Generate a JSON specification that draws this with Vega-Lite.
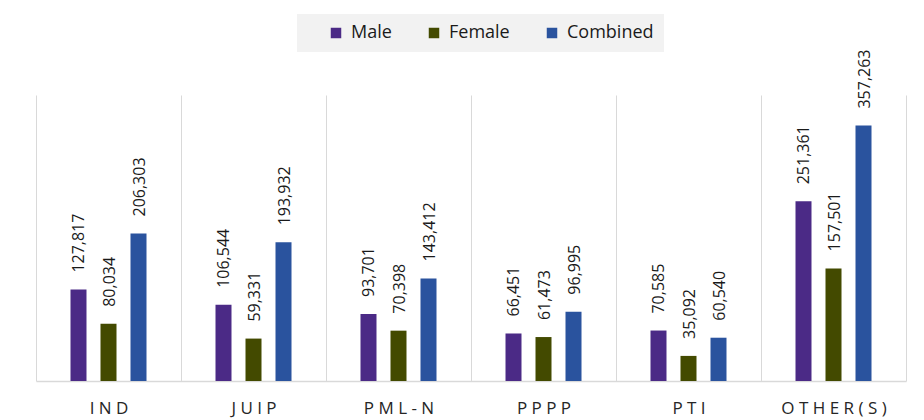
{
  "$schema": "https://vega.github.io/schema/vega-lite/v6.json",
  "autosize": {"type": "none"},
  "padding": {"left": 36, "top": 95, "right": 18, "bottom": 39},
  "width": 870,
  "height": 286,
  "config": {
    "view": {"stroke": null},
    "font": "Open Sans"
  },
  "data": {
    "values": [
      {"party": "IND", "gender": "Male", "value": 127817},
      {"party": "IND", "gender": "Female", "value": 80034},
      {"party": "IND", "gender": "Combined", "value": 206303},
      {"party": "JUIP", "gender": "Male", "value": 106544},
      {"party": "JUIP", "gender": "Female", "value": 59331},
      {"party": "JUIP", "gender": "Combined", "value": 193932},
      {"party": "PML-N", "gender": "Male", "value": 93701},
      {"party": "PML-N", "gender": "Female", "value": 70398},
      {"party": "PML-N", "gender": "Combined", "value": 143412},
      {"party": "PPPP", "gender": "Male", "value": 66451},
      {"party": "PPPP", "gender": "Female", "value": 61473},
      {"party": "PPPP", "gender": "Combined", "value": 96995},
      {"party": "PTI", "gender": "Male", "value": 70585},
      {"party": "PTI", "gender": "Female", "value": 35092},
      {"party": "PTI", "gender": "Combined", "value": 60540},
      {"party": "OTHER(S)", "gender": "Male", "value": 251361},
      {"party": "OTHER(S)", "gender": "Female", "value": 157501},
      {"party": "OTHER(S)", "gender": "Combined", "value": 357263}
    ]
  },
  "encoding": {
    "x": {
      "field": "party",
      "type": "nominal",
      "sort": ["IND", "JUIP", "PML-N", "PPPP", "PTI", "OTHER(S)"],
      "scale": {"paddingInner": 0, "paddingOuter": 0},
      "axis": {
        "title": null,
        "labelAngle": 0,
        "ticks": false,
        "tickBand": "extent",
        "grid": true,
        "gridColor": "#d9d9d9",
        "gridWidth": 1,
        "domainColor": "#d9d9d9",
        "domainWidth": 1.5,
        "labelFontSize": 17,
        "labelColor": "#262626",
        "labelPadding": 19,
        "labelBaseline": "top",
        "labelExpr": "join(split(datum.label, ''), ' ')"
      }
    },
    "xOffset": {
      "field": "gender",
      "type": "nominal",
      "sort": ["Male", "Female", "Combined"],
      "scale": {"paddingInner": 0.1667, "paddingOuter": 1}
    },
    "y": {
      "field": "value",
      "type": "quantitative",
      "scale": {"domain": [0, 400000], "nice": false},
      "axis": null
    }
  },
  "layer": [
    {
      "mark": {"type": "bar", "width": 16},
      "encoding": {
        "color": {
          "field": "gender",
          "type": "nominal",
          "sort": ["Male", "Female", "Combined"],
          "scale": {"domain": ["Male", "Female", "Combined"], "range": ["#4B2A86", "#434A00", "#2A539E"]},
          "legend": {
            "title": null,
            "orient": "none",
            "legendX": 261,
            "legendY": -81,
            "direction": "horizontal",
            "fillColor": "#f2f2f2",
            "padding": 10,
            "symbolType": "square",
            "symbolSize": 110,
            "symbolOffset": 20,
            "symbolStrokeWidth": 0,
            "labelFontSize": 18,
            "labelColor": "#1a1a1a",
            "labelOffset": 6,
            "columnPadding": 13
          }
        }
      }
    },
    {
      "mark": {"type": "text", "angle": 270, "align": "left", "baseline": "middle", "dx": 17, "dy": 1, "fontSize": 16, "color": "#1a1a1a"},
      "encoding": {
        "text": {"field": "value", "type": "quantitative", "format": ",d"}
      }
    }
  ]
}
